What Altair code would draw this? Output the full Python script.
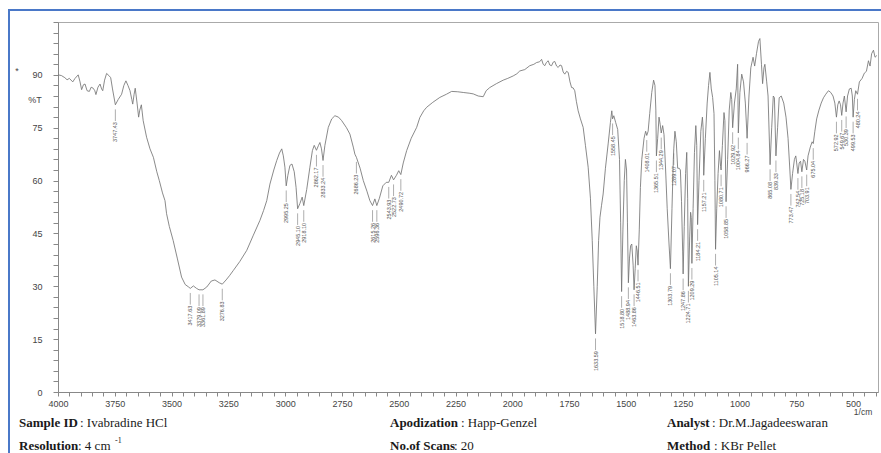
import altair as alt
import pandas as pd

# ---- spectrum (wavenumber 1/cm, %T) ----
wavenumber = [
    4000, 3985, 3970, 3960, 3950, 3935, 3925, 3911, 3903, 3896, 3888, 3881, 3872, 3862, 3854, 3845,
    3838, 3833, 3824, 3815, 3808, 3803, 3795, 3786, 3776, 3768, 3760, 3747.43, 3735, 3720, 3710, 3701,
    3692, 3683, 3675, 3671, 3665, 3660, 3652, 3645, 3640, 3633, 3625, 3610, 3595, 3580, 3565, 3554,
    3540, 3529, 3522, 3510, 3493, 3475, 3456, 3440, 3425, 3417.63, 3404, 3390, 3379.09, 3361.89, 3345,
    3325, 3309, 3290, 3276.83, 3260, 3245, 3228, 3200, 3169, 3140, 3111, 3095, 3081, 3067, 3050, 3037,
    3025, 3015, 3008, 3001, 2995.25, 2988, 2979, 2970, 2960, 2952, 2945.10, 2935, 2925, 2918.10, 2905,
    2891, 2880, 2872, 2862.17, 2853, 2847, 2840, 2833.24, 2825, 2810, 2795, 2781, 2765, 2751, 2730,
    2715, 2700, 2693, 2686.23, 2670, 2656, 2640, 2627, 2615.26, 2605, 2596.36, 2585, 2570, 2555,
    2543.93, 2532, 2522.73, 2510, 2500, 2490.72, 2480, 2465, 2445, 2421, 2407, 2390, 2377, 2350, 2319,
    2290, 2267, 2240, 2216, 2190, 2172, 2150, 2128, 2115, 2099, 2070, 2040, 2020, 1996, 1980, 1967,
    1945, 1923, 1905, 1893, 1880, 1871, 1864, 1857, 1850, 1842, 1835, 1827, 1820, 1813, 1805, 1798,
    1790, 1783, 1776, 1769, 1761, 1754, 1746, 1739, 1732, 1725, 1718, 1710, 1700, 1688, 1678, 1666,
    1656, 1648, 1641, 1633.59, 1626, 1620, 1614, 1607, 1600, 1590, 1578, 1568, 1562, 1558.45, 1553,
    1545, 1536, 1528, 1523, 1518.80, 1513, 1507, 1502, 1497, 1493, 1488.94, 1484, 1479, 1474, 1468,
    1463.86, 1459, 1454, 1450, 1446.51, 1441, 1436, 1430, 1420, 1413, 1408.01, 1402, 1395, 1386, 1378,
    1372, 1368, 1365.51, 1360, 1354, 1349, 1344.29, 1338, 1332, 1325, 1318, 1310, 1303.79, 1297, 1291,
    1289.07, 1284, 1278, 1272, 1265, 1260, 1255, 1250, 1247.86, 1243, 1237, 1232, 1228, 1224.71, 1219,
    1215, 1212, 1209.29, 1204, 1198, 1192, 1188, 1184.21, 1178, 1170, 1163, 1160, 1157.21, 1150, 1142,
    1136, 1130, 1124, 1118, 1112, 1108, 1105.14, 1100, 1094, 1088, 1083, 1080.71, 1075, 1068, 1064,
    1058.85, 1052, 1045, 1038, 1034, 1029.92, 1022, 1014, 1008, 1004.84, 998, 990, 982, 974, 966.27,
    958, 950, 940, 933, 925, 916, 910, 903, 898, 892, 888, 880, 874, 865.08, 858, 851, 846, 839.33,
    832, 825, 816, 805, 795, 786, 778, 773.47, 766, 758, 752, 748, 742.54, 737, 731, 725.18, 718, 712,
    703.91, 698, 688, 680, 675.04, 668, 660, 650, 640, 630, 620, 608, 598, 588, 580, 572.92, 567, 561,
    555, 549.67, 544, 538, 530.39, 524, 516, 508, 503, 499.53, 494, 488, 480.24, 472, 460, 450, 441,
    432, 425, 418, 410, 403, 395,
]
transmittance = [
    90.0, 89.8, 89.2, 88.6, 89.0, 88.0, 89.0, 90.0, 88.0, 85.8, 87.2, 87.4, 85.5, 85.3, 86.5, 86.2,
    85.5, 84.4, 86.5, 87.4, 86.0, 85.5, 88.5, 90.4, 89.8, 89.2, 86.0, 81.5, 83.0, 84.5, 87.0, 88.3,
    87.0, 85.5, 83.0, 81.7, 84.5, 86.2, 82.0, 78.0, 80.0, 81.5, 77.0, 72.3, 69.0, 66.6, 62.5, 60.0,
    56.5, 54.3, 50.6, 47.0, 43.0, 38.0, 32.6, 30.5, 29.8, 29.4, 30.1, 29.4, 29.0, 29.0, 29.8,
    31.5, 31.8, 31.0, 30.6, 31.8, 33.0, 34.5, 37.0, 40.2, 44.5, 48.7, 51.5, 54.3, 59.0, 63.0, 65.7,
    67.8, 69.0, 67.0, 63.8, 58.5, 61.5, 64.3, 64.7, 62.5, 58.1, 52.0, 53.5, 55.3, 52.9, 57.5,
    63.8, 68.5, 70.0, 68.6, 70.0, 70.8, 69.0, 65.7, 70.0, 75.1, 77.5, 78.4, 78.0, 77.0, 75.0,
    73.2, 69.5, 67.5, 66.6, 63.5, 60.0, 57.0, 54.3, 52.9, 54.8, 52.9, 55.0, 58.5, 59.5,
    59.5, 61.5, 60.2, 61.5, 62.8, 61.7, 65.0, 68.5, 72.0, 75.1, 77.9, 79.8, 80.8, 82.2, 83.6,
    84.5, 85.3, 85.2, 85.0, 84.8, 84.6, 84.0, 83.8, 85.5, 86.4, 87.5, 88.5, 89.0, 89.7, 90.3, 91.1,
    91.5, 92.6, 93.0, 93.5, 93.7, 94.4, 93.0, 92.6, 93.5, 94.0, 92.8, 92.6, 93.6, 93.8, 92.5, 92.1,
    92.8, 92.6, 90.8, 90.2, 91.0, 90.7, 88.0, 86.4, 86.3, 85.5, 82.5, 79.8, 77.5, 75.1, 70.0, 63.8,
    55.0, 43.0, 30.0, 16.5, 30.0, 43.0, 49.6, 53.0, 56.2, 63.5, 70.4, 76.5, 79.8, 77.5, 78.4,
    76.5, 74.5, 66.0, 48.0, 28.5, 46.0, 60.0, 66.0, 63.0, 48.0, 31.0, 38.0, 41.5, 42.0, 36.0,
    29.0, 35.0, 41.5, 40.0, 36.0, 46.0, 58.0, 66.0, 72.0, 74.0, 72.8, 74.0, 79.0, 85.0, 88.5,
    87.0, 80.0, 67.0, 72.0, 78.0, 76.0, 73.5, 75.6, 73.0, 63.0, 52.0, 42.0, 35.0, 52.0, 66.0,
    69.0, 74.0, 71.0, 63.5, 63.5, 63.0, 54.0, 40.0, 33.5, 47.0, 62.0, 68.0, 55.0, 30.0, 44.0,
    51.0, 49.5, 36.5, 52.0, 68.0, 75.6, 70.0, 47.5, 60.0, 74.0, 78.0, 75.0, 61.5, 72.0, 82.0,
    87.0, 90.7, 86.0, 83.6, 79.0, 60.0, 40.5, 52.0, 62.0, 68.5, 64.0, 63.0, 70.0, 79.3, 77.0,
    54.0, 66.0, 80.0, 85.0, 83.0, 75.0, 82.0, 86.0, 93.0, 73.5, 85.0, 90.2, 88.0, 82.0, 72.0,
    84.0, 92.0, 95.0, 92.5, 96.0, 99.5, 100.3, 93.0, 87.5, 92.0, 93.0, 88.0, 84.0, 64.5, 75.0, 84.0, 83.5, 67.0,
    75.0, 83.5, 84.0, 82.0, 78.0, 72.0, 63.0, 57.5, 62.0, 66.0, 67.0, 65.0, 62.0, 65.0, 65.5, 62.5, 66.0, 65.5,
    63.0, 67.0, 69.5, 71.0, 70.5, 74.0, 77.5, 80.0, 82.0, 83.5, 84.5, 85.5, 85.0, 84.0, 82.0, 78.0, 81.5, 82.6,
    81.5, 78.5, 82.0, 84.0, 79.5, 84.0, 86.0, 86.2, 84.0, 78.0, 83.0, 85.5, 84.5, 88.0, 89.0, 90.5, 91.0,
    94.0, 92.5, 96.0, 97.0, 95.0, 95.5,
]
peak_wavenumbers = [
    3747.43, 3417.63, 3379.09, 3361.89, 3276.83, 2995.25, 2945.10, 2918.10, 2862.17, 2833.24,
    2686.23, 2615.26, 2596.36, 2543.93, 2522.73, 2490.72, 1633.59, 1558.45, 1518.80, 1488.94,
    1463.86, 1446.51, 1408.01, 1365.51, 1344.29, 1303.79, 1289.07, 1247.86, 1224.71, 1209.29,
    1184.21, 1157.21, 1105.14, 1080.71, 1058.85, 1029.92, 1004.84, 966.27, 865.08, 839.33,
    773.47, 742.54, 725.18, 703.91, 675.04, 572.92, 549.67, 530.39, 499.53, 480.24,
]
x_tick_values = list(range(400, 4001, 50))
y_tick_values = list(range(0, 106, 3))

spec = pd.DataFrame({"wn": wavenumber, "T": transmittance, "i": list(range(len(wavenumber)))})
lookup = dict(zip(wavenumber, transmittance))
lab = pd.DataFrame({"wn": peak_wavenumbers})
lab["T"] = [lookup[w] for w in peak_wavenumbers]
lab["y1"] = lab["T"] - 1.3
lab["y2"] = lab["T"] - 4.6
lab["ty"] = lab["T"] - 4.9
lab["txt"] = [f"{w:.2f}" for w in peak_wavenumbers]

FONT = "Liberation Sans"
SERIF = "Liberation Serif"

xscale = alt.Scale(domain=[390, 4000], reverse=True, nice=False, zero=False)
yscale = alt.Scale(domain=[0, 105], nice=False, zero=False)

xaxis = alt.Axis(
    values=x_tick_values, format="d", title=None, grid=False,
    labelExpr="(datum.value % 250 == 0 && datum.value >= 500) ? format(datum.value, 'd') : ''",
    labelOverlap=False, labelFlush=False, labelFont=FONT, labelFontSize=9,
    labelColor="#444", tickSize=4, tickColor="#888", domainColor="#888", labelPadding=3,
)
yaxis = alt.Axis(
    values=y_tick_values, format="d", title=None, grid=False,
    labelExpr="(datum.value % 15 == 0 && datum.value <= 90) ? format(datum.value, 'd') : ''",
    labelOverlap=False, labelFont=FONT, labelFontSize=9, labelColor="#444",
    tickSize=5, tickColor="#888", domainColor="#888", labelPadding=11,
)

line = alt.Chart(spec).mark_line(color="#757575", strokeWidth=0.85).encode(
    x=alt.X("wn:Q", scale=xscale, axis=xaxis, title=None),
    y=alt.Y("T:Q", scale=yscale, axis=yaxis, title=None),
    order="i:Q",
)

ticks = alt.Chart(lab).mark_rule(color="#777", strokeWidth=0.6).encode(
    x=alt.X("wn:Q", scale=xscale, axis=xaxis, title=None),
    y=alt.Y("y1:Q", scale=yscale, axis=yaxis, title=None),
    y2="y2:Q",
)
labels = alt.Chart(lab).mark_text(
    angle=270, align="right", baseline="middle", font=FONT, fontSize=5.5, color="#555"
).encode(
    x=alt.X("wn:Q", scale=xscale, axis=xaxis, title=None),
    y=alt.Y("ty:Q", scale=yscale, axis=yaxis, title=None),
    text="txt:N",
)

one = pd.DataFrame({"k": [0]})


def txt(s, x, y, size=13, weight="normal", font=SERIF, color="#1a1a1a", align="left"):
    return alt.Chart(one).mark_text(
        text=s, font=font, fontSize=size, fontWeight=weight, color=color,
        align=align, baseline="middle",
    ).encode(x=alt.value(x), y=alt.value(y))


border = alt.Chart(one).mark_rect(
    fill=None, fillOpacity=0, stroke="#4a78c8", strokeWidth=2
).encode(x=alt.value(-49), y=alt.value(-12), x2=alt.value(830), y2=alt.value(440))

annots = [
    txt("*", -41, 49, size=9, font=FONT, color="#444", align="center"),
    txt("%T", -23, 78, size=9, font=FONT, color="#444", align="center"),
    txt("1/cm", 805, 390, size=8.5, font=FONT, color="#444", align="center"),
    txt("Sample ID", -39, 401, weight="bold"),
    txt(": Ivabradine HCl", 22, 401),
    txt("Resolution", -39, 424, weight="bold"),
    txt(": 4 cm", 20, 424),
    txt("-1", 57, 419, size=8),
    txt("Apodization", 332, 401, weight="bold"),
    txt(": Happ-Genzel", 403, 401),
    txt("No.of Scans", 332, 424, weight="bold"),
    txt(": 20", 396, 424),
    txt("Analyst", 609, 401, weight="bold"),
    txt(": Dr.M.Jagadeeswaran", 654, 401),
    txt("Method", 609, 424, weight="bold"),
    txt(": KBr Pellet", 656, 424),
]

chart = alt.layer(line, ticks, labels, border, *annots).properties(
    width=820, height=370,
    autosize=alt.AutoSizeParams(type="none"),
    padding={"left": 58, "top": 22, "right": 3, "bottom": 61},
    background="white",
).configure_view(stroke="#aaa", strokeWidth=1).configure_axis(labelOverlap=False)

chart.save("out.html", embed_options={"renderer": "svg", "actions": False})
